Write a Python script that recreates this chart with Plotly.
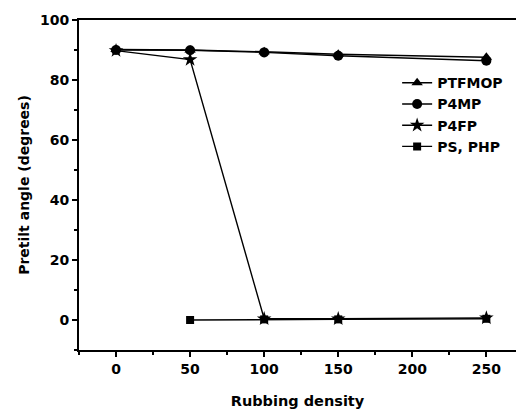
import plotly.graph_objects as go

rubbing = [0, 50, 100, 150, 250]
ptfmop = [90.2, 90.0, 89.4, 88.6, 87.6]
p4mp = [90.0, 89.9, 89.2, 88.1, 86.4]
p4fp = [89.8, 86.8, 0.4, 0.4, 0.7]
ps_x = [50, 100, 150, 250]
ps_php = [0.0, 0.2, 0.2, 0.4]

font_family = "DejaVu Sans, Arial, sans-serif"

fig = go.Figure()
series = [
    ("PTFMOP", rubbing, ptfmop, "triangle-up", 10),
    ("P4MP", rubbing, p4mp, "circle", 10),
    ("P4FP", rubbing, p4fp, "star", 11),
    ("PS, PHP", ps_x, ps_php, "square", 8),
]
for name, xs, ys, sym, sz in series:
    fig.add_trace(go.Scatter(
        x=xs, y=ys, name=name, mode="lines+markers",
        line=dict(color="black", width=1.4),
        marker=dict(symbol=sym, size=sz, color="black"),
    ))

axis_common = dict(
    showgrid=False, zeroline=False, showline=True, linecolor="black", linewidth=2,
    ticks="outside", ticklen=5, tickwidth=1.5, tickcolor="black",
    tickfont=dict(family=font_family, size=14, color="black", weight="bold"),
)
fig.update_layout(
    width=516, height=413,
    margin=dict(l=79, r=0, t=20, b=63),
    plot_bgcolor="white", paper_bgcolor="white",
    showlegend=True,
    legend=dict(x=0.728, y=0.857, xanchor="left", yanchor="top",
                bgcolor="rgba(0,0,0,0)",
                font=dict(family=font_family, size=14, color="black", weight="bold")),
    xaxis=dict(range=[-25, 270], tickvals=[0, 50, 100, 150, 200, 250], mirror=True,
               minor=dict(tickvals=[-25, 25, 75, 125, 175, 225], ticklen=3, ticks="outside", tickcolor="black", tickwidth=1.5),
               title=dict(text="Rubbing density", standoff=20,
                          font=dict(family=font_family, size=14.5, color="black", weight="bold")),
               **axis_common),
    yaxis=dict(range=[-10, 100], tickvals=[0, 20, 40, 60, 80, 100],
               minor=dict(tickvals=[-10, 10, 30, 50, 70, 90], ticklen=3, ticks="outside", tickcolor="black", tickwidth=1.5),
               title=dict(text="Pretilt angle (degrees)", standoff=7,
                          font=dict(family=font_family, size=14, color="black", weight="bold")),
               **axis_common),
)

fig.write_html("out.html")
